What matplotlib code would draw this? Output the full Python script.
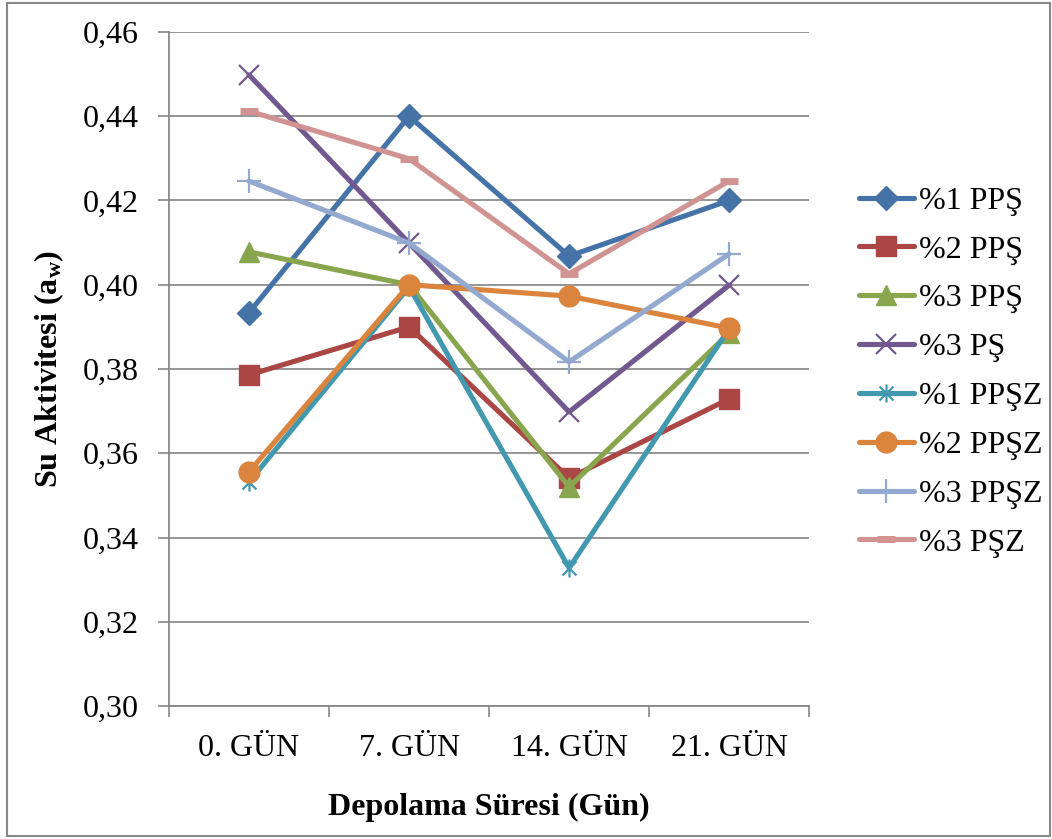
import matplotlib.pyplot as plt
from matplotlib.path import Path
from matplotlib.patches import Rectangle

plt.rcParams['font.family'] = ['Liberation Serif', 'DejaVu Serif']
plt.rcParams['mathtext.fontset'] = 'custom'
plt.rcParams['mathtext.rm'] = 'Liberation Serif:bold'
plt.rcParams['mathtext.it'] = 'Liberation Serif:bold'

# --- Data ---
days = ['0. GÜN', '7. GÜN', '14. GÜN', '21. GÜN']
labels = ['%1 PPŞ', '%2 PPŞ', '%3 PPŞ', '%3 PŞ',
          '%1 PPŞZ', '%2 PPŞZ', '%3 PPŞZ', '%3 PŞZ']
pps1 = [0.3934, 0.4400, 0.4068, 0.4200]
pps2 = [0.3786, 0.3900, 0.3541, 0.3729]
pps3 = [0.4078, 0.4000, 0.3520, 0.3885]
ps3 = [0.4498, 0.4099, 0.3698, 0.3999]
ppsz1 = [0.3532, 0.3995, 0.3328, 0.3895]
ppsz2 = [0.3556, 0.4000, 0.3973, 0.3897]
ppsz3 = [0.4246, 0.4099, 0.3817, 0.4073]
psz3 = [0.4412, 0.4299, 0.4026, 0.4246]
series = [pps1, pps2, pps3, ps3, ppsz1, ppsz2, ppsz3, psz3]

# asterisk marker: x with a vertical bar
star = Path([(-1, -1), (1, 1), (-1, 1), (1, -1), (0, -1.3), (0, 1.3)],
            [Path.MOVETO, Path.LINETO] * 3)

styles = [
    dict(color='#4572A7', marker='D', ms=12),
    dict(color='#AA4643', marker='s', ms=14),
    dict(color='#89A54E', marker='^', ms=15),
    dict(color='#71588F', marker='x', ms=14, mew=1.6),
    dict(color='#4198AF', marker=star, ms=13, mew=1.6),
    dict(color='#DB843D', marker='o', ms=15),
    dict(color='#93A9CF', marker='+', ms=17, mew=1.6),
    dict(color='#D19392', marker='_', ms=13, mew=5),
]

fig = plt.figure(figsize=(10.52, 8.39), dpi=100)
ax = fig.add_axes([0.1607, 0.1585, 0.6084, 0.8034])

x = range(len(days))
for vals, lab, st in zip(series, labels, styles):
    ax.plot(x, vals, label=lab, lw=3.7, color=st['color'],
            marker=st['marker'], markersize=st['ms'],
            markeredgewidth=st.get('mew', 1.0),
            markeredgecolor=st['color'], markerfacecolor=st['color'],
            solid_capstyle='round')

ax.set_xlim(-0.5, 3.5)
ax.set_ylim(0.30, 0.46)
ax.set_yticks([0.30 + 0.02 * i for i in range(9)])
ax.set_yticklabels([f'{0.30 + 0.02 * i:.2f}'.replace('.', ',') for i in range(9)])
ax.set_xticks([-0.5, 0.5, 1.5, 2.5, 3.5])
ax.set_xticklabels([])
ax.set_xticks(list(x), minor=True)
ax.set_xticklabels(days, minor=True)
ax.tick_params(axis='x', which='minor', length=0, pad=20, labelsize=23)
ax.tick_params(axis='x', which='major', length=8, width=1.2, color='#888888')
ax.tick_params(axis='y', length=8, width=1.2, color='#888888', labelsize=23, pad=14)

ax.grid(axis='y', color='#8c8c8c', lw=1.3)
ax.set_axisbelow(True)
for side in ['top', 'right']:
    ax.spines[side].set_visible(False)
for side in ['left', 'bottom']:
    ax.spines[side].set_color('#888888')
    ax.spines[side].set_linewidth(1.3)

ax.set_xlabel('Depolama Süresi (Gün)', fontsize=23, fontweight='bold', labelpad=22)
ax.set_ylabel('Su Aktivitesi (a$_\\mathrm{w}$)', fontsize=23, fontweight='bold', labelpad=12)

ax.legend(loc='center left', bbox_to_anchor=(1.033, 0.4955), frameon=False,
          fontsize=23, handlelength=1.72, handletextpad=0.15, labelspacing=0.61)

# chart area border
fig.patches.append(Rectangle((0.007, 0.004), 0.991, 0.992, transform=fig.transFigure,
                             fill=False, edgecolor='#888888', lw=1.5))

fig.savefig('out.png', dpi=100)
